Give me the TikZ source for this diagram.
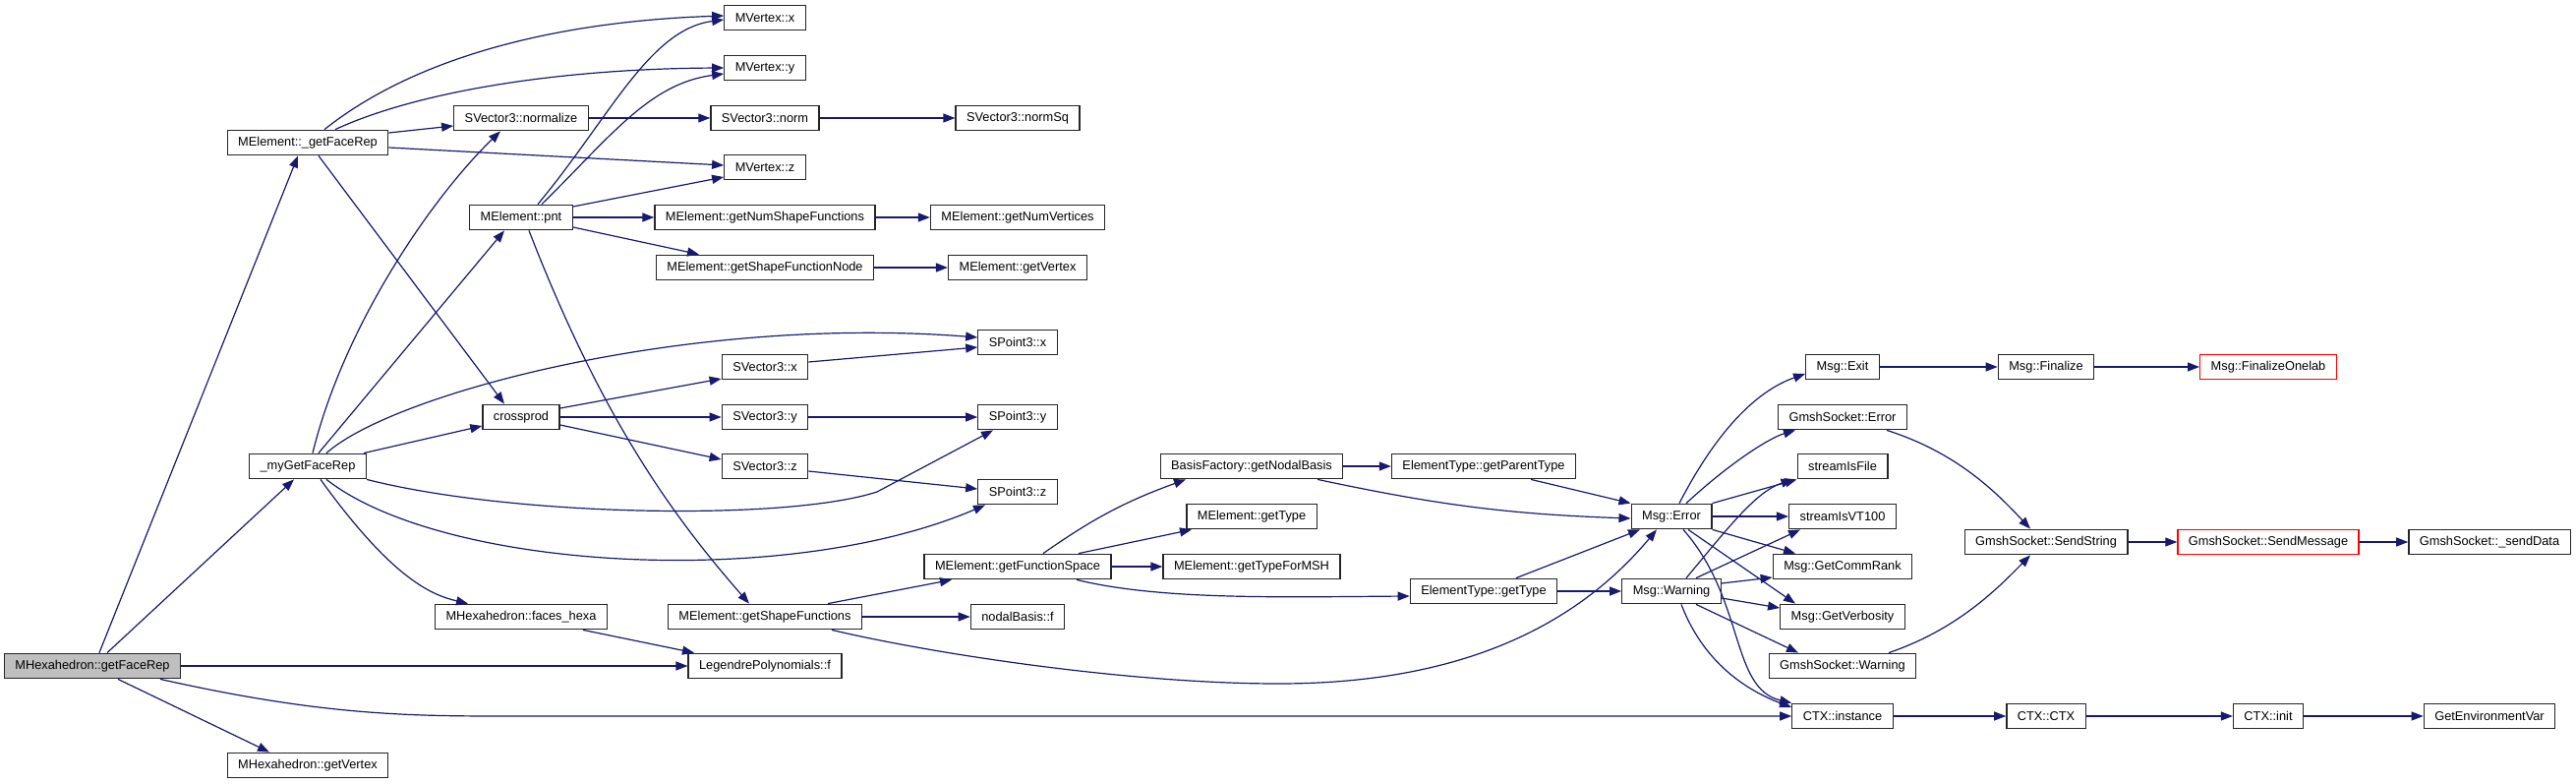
\documentclass[tikz,border=0pt]{standalone}
\usepackage{fontspec}
\setmainfont{Liberation Sans}
\usetikzlibrary{arrows.meta}
\definecolor{edgeblue}{HTML}{191970}

\begin{document}
\begin{tikzpicture}[x=1pt, y=-1pt, >={Triangle[length=12pt, width=9pt]},
    fn/.style={draw=black!85, line width=1.3pt, minimum height=25.5pt, inner xsep=11pt, inner ysep=0pt, font=\fontsize{12.8}{15}\selectfont},
    root/.style={fn, fill=gray!50},
    hot/.style={fn, draw=red},
    call/.style={->, draw=edgeblue, line width=1.2pt}]

    \useasboundingbox (0,0) rectangle (2620,797);

    % Column positions
    \def\cA{94}
    \def\cB{313}
    \def\cC{530}
    \def\cD{778}
    \def\cE{1035}
    \def\cF{1273}
    \def\cG{1509}
    \def\cH{1700}
    \def\cI{1874}
    \def\cJ{2081}
    \def\cK{2307}
    \def\cL{2532}

    % Caller and first level
    \node[root] (hexFaceRep) at (\cA,677) {MHexahedron::getFaceRep};
    \node[fn] (elFaceRep) at (\cB,145) {MElement::\_getFaceRep};
    \node[fn] (myFaceRep) at (\cB,474) {\_myGetFaceRep};
    \node[fn] (hexVertex) at (\cB,778) {MHexahedron::getVertex};

    % Second level
    \node[fn] (normalize) at (\cC,120) {SVector3::normalize};
    \node[fn] (pnt) at (\cC,221) {MElement::pnt};
    \node[fn] (crossprod) at (\cC,424) {crossprod};
    \node[fn] (facesHexa) at (\cC,627) {MHexahedron::faces\_hexa};

    % Third level
    \node[fn] (vx) at (\cD,18) {MVertex::x};
    \node[fn] (vy) at (\cD,69) {MVertex::y};
    \node[fn] (norm) at (\cD,120) {SVector3::norm};
    \node[fn] (vz) at (\cD,170) {MVertex::z};
    \node[fn] (numShape) at (\cD,221) {MElement::getNumShapeFunctions};
    \node[fn] (shapeNode) at (\cD,272) {MElement::getShapeFunctionNode};
    \node[fn] (sx) at (\cD,373) {SVector3::x};
    \node[fn] (sy) at (\cD,424) {SVector3::y};
    \node[fn] (sz) at (\cD,474) {SVector3::z};
    \node[fn] (shapeFns) at (\cD,627) {MElement::getShapeFunctions};
    \node[fn] (legendre) at (\cD,677) {LegendrePolynomials::f};

    % Fourth level
    \node[fn] (normSq) at (\cE,120) {SVector3::normSq};
    \node[fn] (numVert) at (\cE,221) {MElement::getNumVertices};
    \node[fn] (getVertex) at (\cE,272) {MElement::getVertex};
    \node[fn] (px) at (\cE,348) {SPoint3::x};
    \node[fn] (py) at (\cE,424) {SPoint3::y};
    \node[fn] (pz) at (\cE,500) {SPoint3::z};
    \node[fn] (funcSpace) at (\cE,576) {MElement::getFunctionSpace};
    \node[fn] (nodalF) at (\cE,627) {nodalBasis::f};

    % Element types
    \node[fn] (nodalBasis) at (\cF,474) {BasisFactory::getNodalBasis};
    \node[fn] (elType) at (\cF,525) {MElement::getType};
    \node[fn] (typeMSH) at (\cF,576) {MElement::getTypeForMSH};
    \node[fn] (parentType) at (\cG,474) {ElementType::getParentType};
    \node[fn] (etType) at (\cG,601) {ElementType::getType};

    % Messages
    \node[fn] (msgError) at (\cH,525) {Msg::Error};
    \node[fn] (msgWarning) at (\cH,601) {Msg::Warning};
    \node[fn] (msgExit) at (\cI,373) {Msg::Exit};
    \node[fn] (sockError) at (\cI,424) {GmshSocket::Error};
    \node[fn] (streamFile) at (\cI,474) {streamIsFile};
    \node[fn] (streamVT) at (\cI,525) {streamIsVT100};
    \node[fn] (commRank) at (\cI,576) {Msg::GetCommRank};
    \node[fn] (verbosity) at (\cI,627) {Msg::GetVerbosity};
    \node[fn] (sockWarning) at (\cI,677) {GmshSocket::Warning};
    \node[fn] (ctxInst) at (\cI,728) {CTX::instance};

    % Right end
    \node[fn] (msgFinalize) at (\cJ,373) {Msg::Finalize};
    \node[hot] (finOnelab) at (\cK,373) {Msg::FinalizeOnelab};
    \node[fn] (sendString) at (\cJ,551) {GmshSocket::SendString};
    \node[hot] (sendMessage) at (\cK,551) {GmshSocket::SendMessage};
    \node[fn] (sendData) at (\cL,551) {GmshSocket::\_sendData};
    \node[fn] (ctxCtx) at (\cJ,728) {CTX::CTX};
    \node[fn] (ctxInit) at (\cK,728) {CTX::init};
    \node[fn] (getEnv) at (\cL,728) {GetEnvironmentVar};

    % Calls of MHexahedron::getFaceRep
    \draw[call] ([xshift=7]hexFaceRep.north) -- ([xshift=-10]elFaceRep.south);
    \draw[call] ([xshift=15]hexFaceRep.north) -- ([xshift=-14]myFaceRep.south);
    \draw[call] (hexFaceRep) -- (legendre);
    \draw[call] ([xshift=69]hexFaceRep.south) .. controls (330,728) and (420,728) .. (520,728) -- (ctxInst.west);
    \draw[call] ([xshift=26]hexFaceRep.south) -- ([xshift=-39]hexVertex.north);

    % Calls of MElement::_getFaceRep
    \draw[call] ([xshift=17]elFaceRep.north) .. controls (420,60) and (560,22) .. ([yshift=2]vx.west);
    \draw[call] ([xshift=28]elFaceRep.north) .. controls (420,95) and (560,70) .. (vy.west);
    \draw[call] ([yshift=10]elFaceRep.east) -- ([yshift=-8]normalize.west);
    \draw[call] ([yshift=-5]elFaceRep.east) -- ([yshift=2]vz.west);
    \draw[call] ([xshift=11]elFaceRep.south) -- ([xshift=-17]crossprod.north);

    % Calls of _myGetFaceRep
    \draw[call] ([xshift=5]myFaceRep.north) .. controls (350,330) and (440,200) .. ([xshift=-21]normalize.south);
    \draw[call] ([xshift=11]myFaceRep.north) -- ([xshift=-17]pnt.south);
    \draw[call] ([xshift=19]myFaceRep.north) .. controls (400,400) and (700,320) .. ([yshift=5]px.west);
    \draw[call] ([xshift=57]myFaceRep.north) -- ([yshift=-9]crossprod.west);
    \draw[call] (myFaceRep.south east) .. controls (520,525) and (800,530) .. (892,500) -- ([xshift=-25]py.south);
    \draw[call] ([xshift=19]myFaceRep.south) .. controls (450,580) and (800,600) .. ([xshift=-33]pz.south);
    \draw[call] ([xshift=13]myFaceRep.south) .. controls (400,590) and (440,605) .. ([xshift=-54]facesHexa.north);

    % Vector helpers
    \draw[call] (normalize) -- (norm);
    \draw[call] (norm) -- (normSq);
    \draw[call] ([yshift=9]crossprod.east) -- ([yshift=-12]sx.west);
    \draw[call] (crossprod) -- (sy);
    \draw[call] ([yshift=-8]crossprod.east) -- ([yshift=7]sz.west);
    \draw[call] ([yshift=5]sx.east) -- ([yshift=-5]px.west);
    \draw[call] (sy) -- (py);
    \draw[call] ([yshift=-5]sz.east) -- ([yshift=3]pz.west);
    \draw[call] ([xshift=63]facesHexa.south) -- ([xshift=-72]legendre.north);

    % Calls of MElement::pnt
    \draw[call] ([xshift=17]pnt.north) .. controls (620,120) and (660,30) .. ([yshift=-2]vx.west);
    \draw[call] ([xshift=21]pnt.north) .. controls (620,140) and (660,85) .. ([yshift=-6]vy.west);
    \draw[call] ([yshift=11]pnt.east) -- ([yshift=-10]vz.west);
    \draw[call] (pnt) -- (numShape);
    \draw[call] ([yshift=-10]pnt.east) -- ([xshift=-67]shapeNode.north);
    \draw[call] ([xshift=8]pnt.south) .. controls (610,420) and (680,520) .. ([xshift=-16]shapeFns.north);
    \draw[call] (numShape) -- (numVert);
    \draw[call] (shapeNode) -- (getVertex);

    % Shape functions and function space
    \draw[call] ([xshift=64]shapeFns.north) -- ([xshift=-67]funcSpace.south);
    \draw[call] (shapeFns) -- (nodalF);
    \draw[call] ([xshift=68]shapeFns.south) .. controls (950,665) and (1150,695) .. (1300,695)
        .. controls (1480,695) and (1600,640) .. ([xshift=-15]msgError.south);
    \draw[call] ([xshift=26]funcSpace.north) to[out=35, in=200] ([xshift=-67]nodalBasis.south);
    \draw[call] ([xshift=62]funcSpace.north) -- ([xshift=-61]elType.south);
    \draw[call] (funcSpace) -- (typeMSH);
    \draw[call] ([xshift=60]funcSpace.south) .. controls (1180,610) and (1300,607) .. ([yshift=-5]etType.west);

    % Element types to messages
    \draw[call] (nodalBasis) -- (parentType);
    \draw[call] ([xshift=67]nodalBasis.south) to[out=-12, in=178] ([yshift=-2]msgError.west);
    \draw[call] ([xshift=48]parentType.south) -- (msgError.north west);
    \draw[call] ([xshift=33]etType.north) -- ([xshift=-32]msgError.south);
    \draw[call] (etType) -- (msgWarning);

    % Calls of Msg::Error
    \draw[call] ([xshift=8]msgError.north) .. controls (1745,440) and (1785,398) .. ([yshift=-7]msgExit.west);
    \draw[call] ([xshift=15]msgError.north) .. controls (1760,470) and (1800,445) .. ([xshift=-48]sockError.south);
    \draw[call] (msgError.north east) -- (streamFile.south west);
    \draw[call] (msgError) -- (streamVT);
    \draw[call] (msgError.south east) -- ([xshift=-48]commRank.north);
    \draw[call] ([xshift=17]msgError.south) -- ([xshift=-48]verbosity.north);
    \draw[call] ([xshift=12]msgError.south) .. controls (1775,610) and (1760,700) .. (ctxInst.north west);

    % Calls of Msg::Warning
    \draw[call] ([xshift=15]msgWarning.north) .. controls (1755,540) and (1785,500) .. ([xshift=-4]streamFile.south west);
    \draw[call] ([xshift=25]msgWarning.north) -- ([xshift=-43]streamVT.south);
    \draw[call] ([yshift=8]msgWarning.east) -- ([yshift=-11]commRank.west);
    \draw[call] ([yshift=-7]msgWarning.east) -- ([yshift=9]verbosity.west);
    \draw[call] ([xshift=25]msgWarning.south) -- ([xshift=-45]sockWarning.north);
    \draw[call] ([xshift=10]msgWarning.south) .. controls (1735,680) and (1785,705) .. ([yshift=9]ctxInst.west);

    % Chains to the right
    \draw[call] ([xshift=45]sockError.south) .. controls (1990,460) and (2030,500) .. ([xshift=-16]sendString.north);
    \draw[call] ([xshift=47]sockWarning.north) .. controls (1990,640) and (2030,600) .. ([xshift=-16]sendString.south);
    \draw[call] (msgExit) -- (msgFinalize);
    \draw[call] (msgFinalize) -- (finOnelab);
    \draw[call] (sendString) -- (sendMessage);
    \draw[call] (sendMessage) -- (sendData);
    \draw[call] (ctxInst) -- (ctxCtx);
    \draw[call] (ctxCtx) -- (ctxInit);
    \draw[call] (ctxInit) -- (getEnv);

\end{tikzpicture}
\end{document}
